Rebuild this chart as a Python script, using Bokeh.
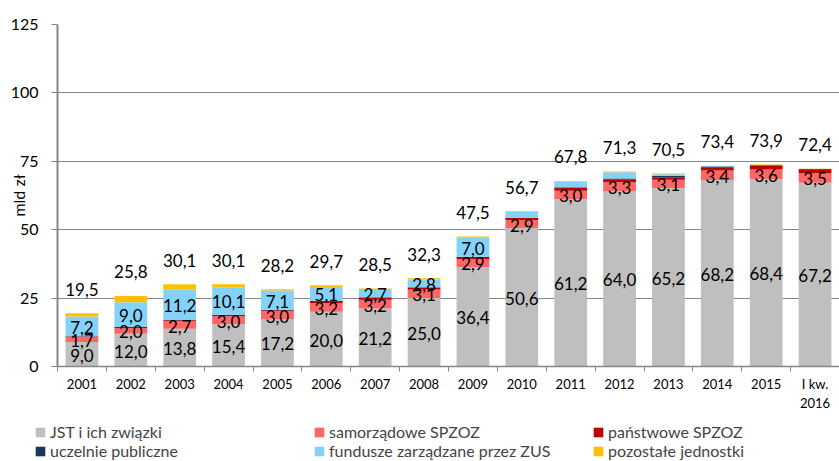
from bokeh.plotting import figure
from bokeh.models import Range1d, FixedTicker, Legend, LegendItem
from bokeh.layouts import column
from bokeh.core.properties import value
from bokeh.embed import file_html
from bokeh.resources import INLINE

categories = ["2001", "2002", "2003", "2004", "2005", "2006", "2007", "2008", "2009",
              "2010", "2011", "2012", "2013", "2014", "2015", "I kw.\n2016"]
jst = [9.0, 12.0, 13.8, 15.4, 17.2, 20.0, 21.2, 25.0, 36.4, 50.6, 61.2, 64.0, 65.2, 68.2, 68.4, 67.2]
samorzadowe = [1.7, 2.0, 2.7, 3.0, 3.0, 3.2, 3.2, 3.1, 2.9, 2.9, 3.0, 3.3, 3.1, 3.4, 3.6, 3.5]
panstwowe = [0.3, 0.4, 0.4, 0.4, 0.4, 0.7, 0.8, 0.8, 0.7, 0.8, 1.1, 1.0, 0.9, 1.0, 1.3, 1.2]
uczelnie = [0.1, 0.1, 0.1, 0.1, 0.1, 0.1, 0.1, 0.1, 0.1, 0.1, 0.2, 0.4, 0.5, 0.5, 0.3, 0.3]
zus = [7.2, 9.0, 11.2, 10.1, 7.1, 5.1, 2.7, 2.8, 7.0, 2.1, 2.1, 2.3, 0.6, 0.2, 0.1, 0.1]
pozostale = [1.2, 2.3, 1.9, 1.1, 0.4, 0.6, 0.5, 0.5, 0.4, 0.2, 0.2, 0.3, 0.2, 0.1, 0.2, 0.1]
totals = [19.5, 25.8, 30.1, 30.1, 28.2, 29.7, 28.5, 32.3, 47.5, 56.7, 67.8, 71.3, 70.5, 73.4, 73.9, 72.4]
y_ticks = [0, 25, 50, 75, 100, 125]

series_names = ["JST i ich związki", "samorządowe SPZOZ", "państwowe SPZOZ",
                "uczelnie publiczne", "fundusze zarządzane przez ZUS", "pozostałe jednostki"]
series_vals = [jst, samorzadowe, panstwowe, uczelnie, zus, pozostale]
colors = ["#BFBFBF", "#FF6666", "#C00000", "#17375E", "#84D2F8", "#FFC000"]

FONT = "Lato"
n = len(categories)
xs = [i + 0.5 for i in range(n)]

p = figure(width=839, height=416, output_backend="svg", toolbar_location=None,
           x_range=Range1d(0, n), y_range=Range1d(0, 125), frame_align=False,
           min_border_left=57, min_border_right=0, min_border_top=24, min_border_bottom=50)
p.outline_line_color = None
p.background_fill_color = "white"

segments = []
bottoms = [0.0] * n
for name, vals, col in zip(series_names, series_vals, colors):
    tops = [b + v for b, v in zip(bottoms, vals)]
    p.vbar(x=xs, bottom=bottoms, top=tops, width=0.67, fill_color=col, line_color=None)
    segments.append((list(bottoms), tops))
    bottoms = tops

def fmt(v):
    return f"{v:.1f}".replace(".", ",")

# segment labels
lab_x, lab_y, lab_t = [], [], []
for idx in (0, 1, 4):
    bots, tps = segments[idx]
    vals = series_vals[idx]
    for i in range(n):
        if idx == 4 and vals[i] < 2.5:
            continue
        lab_x.append(xs[i])
        lab_y.append((bots[i] + tps[i]) / 2)
        lab_t.append(fmt(vals[i]))
p.text(x=lab_x, y=lab_y, text=lab_t, text_align="center", text_baseline="middle",
       text_font=value(FONT), text_font_size="17px", text_color="black", y_offset=1)

# totals
p.text(x=xs, y=totals, text=[fmt(t) for t in totals], text_align="center",
       text_baseline="middle", text_font=value(FONT), text_font_size="17px",
       text_color="black", y_offset=-24)

# axes
p.yaxis.ticker = FixedTicker(ticks=y_ticks)
p.yaxis.axis_line_color = "#868686"
p.yaxis.axis_line_width = 2
p.yaxis.major_tick_line_color = "#868686"
p.yaxis.major_tick_in = 0
p.yaxis.major_tick_out = 6
p.yaxis.minor_tick_line_color = None
p.yaxis.major_label_standoff = 13
p.yaxis.major_label_text_font = FONT
p.yaxis.major_label_text_font_size = "16px"
p.yaxis.major_label_text_color = "black"
p.yaxis.axis_label = "mld zł"
p.yaxis.axis_label_text_font = FONT
p.yaxis.axis_label_text_font_size = "16px"
p.yaxis.axis_label_text_font_style = "normal"
p.yaxis.axis_label_text_color = "black"
p.yaxis.axis_label_standoff = -20

p.xaxis.ticker = FixedTicker(ticks=xs, minor_ticks=list(range(n + 1)))
p.xaxis.major_label_overrides = {x: c for x, c in zip(xs, categories)}
p.xaxis.axis_line_color = "#868686"
p.xaxis.axis_line_width = 1.5
p.xaxis.major_tick_line_color = None
p.xaxis.major_tick_out = 5
p.xaxis.major_tick_in = 0
p.xaxis.minor_tick_line_color = "#868686"
p.xaxis.minor_tick_out = 5
p.xaxis.minor_tick_in = 0
p.xaxis.major_label_standoff = 4
p.xaxis.major_label_text_font = FONT
p.xaxis.major_label_text_font_size = "13px"
p.xaxis.major_label_text_color = "black"

p.xgrid.grid_line_color = None
p.ygrid.grid_line_color = "#868686"
p.ygrid.grid_line_width = 1
p.ygrid.ticker = FixedTicker(ticks=y_ticks)

# legend in its own strip below the chart (hidden copies of the series, only keys show)
lg = figure(width=839, height=45, output_backend="svg", toolbar_location=None,
            x_range=Range1d(0, n), y_range=Range1d(200, 300), frame_align=False,
            x_axis_location=None, y_axis_location=None,
            min_border_left=0, min_border_right=0, min_border_top=0, min_border_bottom=0)
lg.outline_line_color = None
lg.xgrid.grid_line_color = None
lg.ygrid.grid_line_color = None
items = []
for name, col, (bots, tps) in zip(series_names, colors, segments):
    r = lg.vbar(x=xs, bottom=bots, top=tps, width=0.67, fill_color=col, line_color=None,
                visible=False)
    items.append(LegendItem(label=name, renderers=[r]))
legend = Legend(items=items, location=(34, 1), orientation="horizontal", ncols=3,
                glyph_width=12, glyph_height=12, label_standoff=4, label_width=263,
                label_height=19, spacing=0, padding=0, margin=0,
                label_text_font=FONT, label_text_font_size="16px", label_text_align="left",
                inactive_fill_alpha=0,
                background_fill_alpha=0, border_line_color=None)
lg.add_layout(legend, "center")

layout = column(p, lg, spacing=0)
open("out.html", "w").write(file_html(layout, INLINE))
